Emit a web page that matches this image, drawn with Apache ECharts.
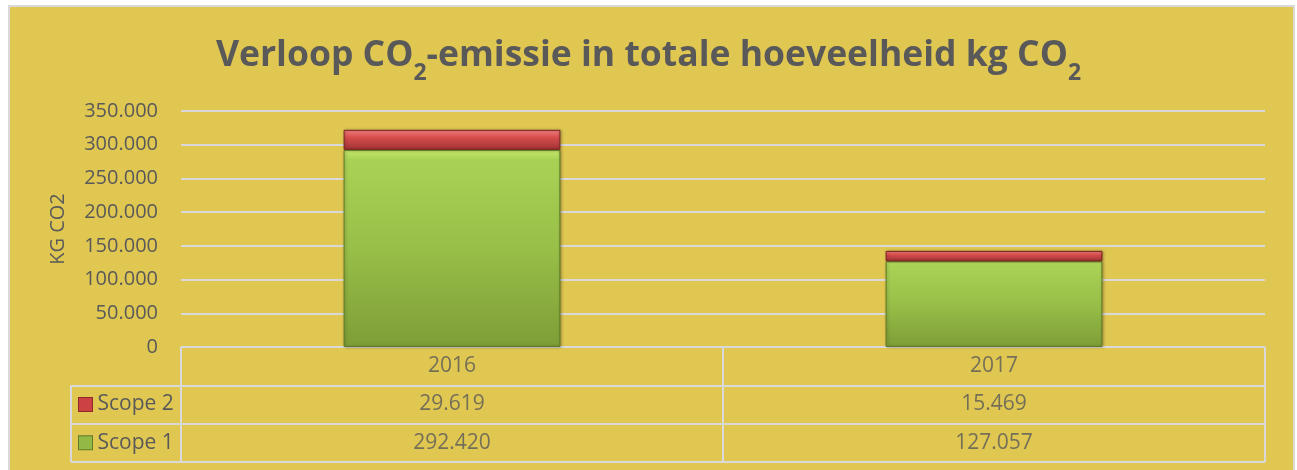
<!DOCTYPE html>
<html>
<head>
<meta charset="utf-8">
<script src="https://cdn.jsdelivr.net/npm/echarts@6/dist/echarts.min.js"></script>
<style>
html, body { margin: 0; padding: 0; background: #fff; }
#wrap { position: relative; width: 1297px; height: 470px; }
#bg { position: absolute; left: 8px; top: 5px; width: 1287px; height: 470px; background: #E0C752; border: 2px solid #D9D9D9; box-sizing: border-box; }
#chart { position: absolute; left: 0; top: 0; width: 1297px; height: 470px; }
</style>
</head>
<body>
<div id="wrap"><div id="bg"></div><div id="chart"></div></div>
<script>
// data
const years = ['2016', '2017'];
const scope1 = [292420, 127057];
const scope2 = [29619, 15469];
const rowNames = ['Jaar', 'Scope 2', 'Scope 1'];
const yMin = 0, yMax = 350000, yStep = 50000;

const FONT = 'Open Sans';
const GREY = '#595959';
const LINE = '#D9D9D9';

// 292420 -> 292.420
const fmt = v => String(v).replace(/\B(?=(\d{3})+(?!\d))/g, '.');

const chart = echarts.init(document.getElementById('chart'));

// cells of the data table under the bars
const cells = [];
years.forEach((y, i) => {
    cells.push([y, 'Jaar', y]);
    cells.push([y, 'Scope 2', fmt(scope2[i])]);
    cells.push([y, 'Scope 1', fmt(scope1[i])]);
});

const green = new echarts.graphic.LinearGradient(0, 0, 0, 1, [
    { offset: 0, color: '#C6E86C' },
    { offset: 0.05, color: '#A9D255' },
    { offset: 0.5, color: '#98BF48' },
    { offset: 1, color: '#7E9D37' }
]);
const red = new echarts.graphic.LinearGradient(0, 0, 0, 1, [
    { offset: 0, color: '#F58080' },
    { offset: 0.4, color: '#D44B4B' },
    { offset: 1, color: '#A23434' }
]);

const option = {
    animation: false,
    title: {
        text: '{m|Verloop CO}{sub|2}{m|-emissie in totale hoeveelheid kg CO}{sub|2}',
        left: 'center',
        top: 33,
        textStyle: {
            fontFamily: FONT, fontSize: 35.5, fontWeight: 'bold', color: GREY,
            rich: {
                m: { fontFamily: FONT, fontSize: 35.5, fontWeight: 'bold', color: GREY, lineHeight: 44, verticalAlign: 'top' },
                sub: { fontFamily: FONT, fontSize: 23, fontWeight: 'bold', color: GREY, lineHeight: 24, padding: [24, 0, 0, 0], verticalAlign: 'top' }
            }
        }
    },
    grid: [
        { left: 181, right: 32, top: 111, height: 236 },
        { left: 181, right: 32, top: 347, height: 115 },
        { left: 71, width: 110, top: 385.3, height: 76.7 }
    ],
    xAxis: [
        {
            type: 'category', gridIndex: 0, data: years,
            axisLine: { show: false }, axisTick: { show: false }, axisLabel: { show: false }
        },
        {
            type: 'category', gridIndex: 1, data: years, boundaryGap: true,
            axisLine: { show: false }, axisTick: { show: false }, axisLabel: { show: false },
            splitLine: { show: true, interval: 0, lineStyle: { color: LINE, width: 2 } }
        },
        {
            type: 'category', gridIndex: 2, data: ['legenda'], boundaryGap: true,
            axisLine: { show: false }, axisTick: { show: false }, axisLabel: { show: false },
            splitLine: { show: true, interval: 0, lineStyle: { color: LINE, width: 2 } }
        }
    ],
    yAxis: [
        {
            type: 'value', gridIndex: 0, min: yMin, max: yMax, interval: yStep,
            name: 'KG CO2', nameLocation: 'middle', nameGap: 113, nameRotate: 90,
            nameTextStyle: { fontFamily: FONT, fontSize: 20, color: GREY },
            axisLabel: { formatter: fmt, fontFamily: FONT, fontSize: 20, color: GREY, margin: 23 },
            splitLine: { lineStyle: { color: LINE, width: 2 } }
        },
        {
            type: 'category', gridIndex: 1, data: rowNames, inverse: true,
            axisLine: { show: false }, axisTick: { show: false }, axisLabel: { show: false },
            splitLine: { show: true, interval: 0, lineStyle: { color: LINE, width: 2 } }
        },
        {
            type: 'category', gridIndex: 2, data: rowNames.slice(1), inverse: true,
            axisLine: { show: false }, axisTick: { show: false },
            splitLine: { show: true, interval: 0, lineStyle: { color: LINE, width: 2 } },
            axisLabel: {
                inside: true, margin: 8,
                formatter: v => '{' + (v === 'Scope 2' ? 'r' : 'g') + '|}{t| ' + v + '}',
                rich: {
                    r: { width: 13, height: 13, backgroundColor: '#CC4141', borderColor: '#8E2A2A', borderWidth: 1 },
                    g: { width: 13, height: 13, backgroundColor: '#93B845', borderColor: '#5F7C26', borderWidth: 1 },
                    t: { fontFamily: FONT, fontSize: 21, color: GREY }
                }
            }
        }
    ],
    series: [
        {
            name: 'Scope 1', type: 'bar', stack: 'co2', data: scope1, barWidth: '40%',
            xAxisIndex: 0, yAxisIndex: 0,
            itemStyle: { color: green, borderColor: '#5E7A25', borderWidth: 1, shadowColor: 'rgba(0,0,0,0.3)', shadowBlur: 3, shadowOffsetX: 1 }
        },
        {
            name: 'Scope 2', type: 'bar', stack: 'co2', data: scope2, barWidth: '40%',
            xAxisIndex: 0, yAxisIndex: 0,
            itemStyle: { color: red, borderColor: '#7A2222', borderWidth: 1, shadowColor: 'rgba(0,0,0,0.3)', shadowBlur: 3, shadowOffsetX: 1 }
        },
        {
            name: 'tabel', type: 'scatter', xAxisIndex: 1, yAxisIndex: 1, data: cells,
            symbolSize: 1, itemStyle: { color: 'rgba(0,0,0,0)' }, silent: true,
            label: {
                show: true, position: 'inside', formatter: p => p.value[2],
                fontFamily: FONT, fontSize: 21, color: GREY
            }
        }
    ]
};
chart.setOption(option);
</script>
</body>
</html>
